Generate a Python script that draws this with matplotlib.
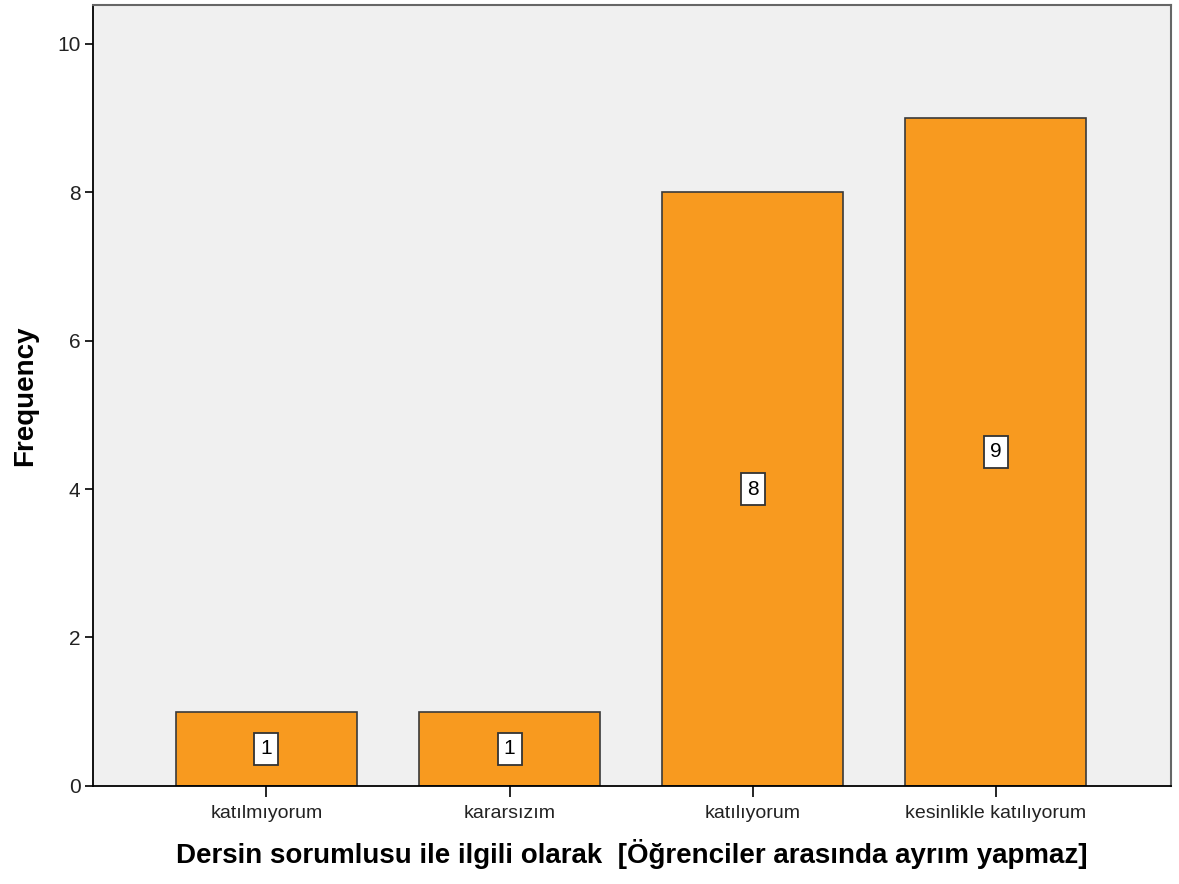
import numpy as np
import matplotlib.pyplot as plt

categories = ["katılmıyorum", "kararsızım", "katılıyorum", "kesinlikle katılıyorum"]
counts = [1, 1, 8, 9]
yticks = [0, 2, 4, 6, 8, 10]

plt.rcParams['font.family'] = ['Liberation Sans', 'DejaVu Sans']

fig = plt.figure(figsize=(11.79, 8.84), dpi=100)
ax = fig.add_axes([0.0789, 0.1109, 0.9143, 0.8834])
ax.set_facecolor("#F0F0F0")

x = np.arange(len(categories))
ax.bar(x, counts, width=0.745, color="#F89A1F", edgecolor="#3a3a3a", linewidth=1.2, zorder=2)

# value boxes in the middle of each bar
for xi, c in zip(x, counts):
    ax.text(xi, c / 2, str(c), ha="center", va="center", fontsize=15, zorder=3,
            bbox=dict(boxstyle="square,pad=0.3", facecolor="white", edgecolor="#333333", linewidth=1.3))

ax.set_xlim(-0.713, 3.72)
ax.set_ylim(0, 10.52)
ax.set_xticks(x)
ax.set_xticklabels(categories, fontsize=14, color="#222222")
ax.set_yticks(yticks)
ax.set_yticklabels([str(t) for t in yticks], fontsize=15, color="#222222")
ax.tick_params(axis="x", length=8, width=1.2, pad=6)
ax.tick_params(axis="y", length=6, width=1.2, pad=3)

ax.set_xlabel("Dersin sorumlusu ile ilgili olarak  [Öğrenciler arasında ayrım yapmaz]",
              fontsize=20, fontweight="bold", labelpad=12)
ax.set_ylabel("Frequency", fontsize=20, fontweight="bold", labelpad=14)

for s in ["left", "bottom"]:
    ax.spines[s].set_color("black")
    ax.spines[s].set_linewidth(1.3)
for s in ["top", "right"]:
    ax.spines[s].set_color("#666666")
    ax.spines[s].set_linewidth(1.5)

plt.savefig("out.png", dpi=100)
